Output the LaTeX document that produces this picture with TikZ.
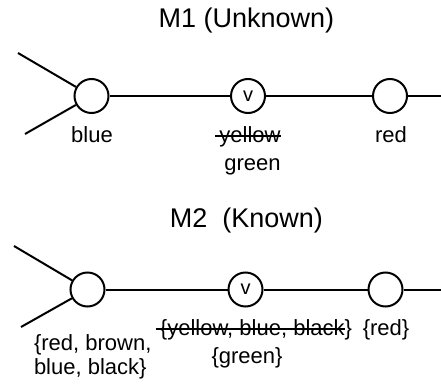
\documentclass[tikz,border=0pt]{standalone}
\usepackage{fontspec}
\setmainfont{Liberation Sans}
\usetikzlibrary{positioning}
\newsavebox{\gonebox}
\newcommand{\gone}[1]{\sbox{\gonebox}{#1}\rlap{\hspace{-4pt}\rule[0.24em]{\dimexpr\wd\gonebox+4pt\relax}{2pt}}\usebox{\gonebox}}

\begin{document}
\begin{tikzpicture}[x=1pt, y=-1pt,
    line width=2pt,
    var/.style={circle, draw, minimum size=34pt, inner sep=0pt, font=\fontsize{20}{24}\selectfont},
    lab/.style={anchor=base, inner sep=0pt, font=\fontsize{22}{24}\selectfont},
    title/.style={anchor=base, inner sep=0pt, font=\fontsize{27}{32}\selectfont}
]
    \useasboundingbox (0,0) rectangle (441,388);
    % M1
    \node[title] (t1) at (246.5,27) {M1 (Unknown)};
    \node[var] (b1) at (91.5,96) {};
    \node[var] (v1) at (248,96) {v};
    \node[var] (r1) at (390,96) {};
    \coordinate (in1a) at (18,53);
    \coordinate (in1b) at (25,134);
    \coordinate (out1) at (441,96);
    \draw (in1a) -- (b1);
    \draw (in1b) -- (b1);
    \draw (b1) -- (v1) -- (r1) -- (out1);
    \node[lab] (lb1) at (92,142) {blue};
    \node[lab] (lv1) at (250,142) {\gone{yellow}};
    \node[lab] (lg1) at (252.5,170) {green};
    \node[lab] (lr1) at (391,142) {red};
    % M2
    \node[title] (t2) at (246.5,227) {M2~~(Known)};
    \node[var] (b2) at (87.5,289.5) {};
    \node[var] (v2) at (245.5,289.5) {v};
    \node[var] (r2) at (385.5,289.5) {};
    \coordinate (in2a) at (14,246);
    \coordinate (in2b) at (21,327);
    \coordinate (out2) at (441,289.5);
    \draw (in2a) -- (b2);
    \draw (in2b) -- (b2);
    \draw (b2) -- (v2) -- (r2) -- (out2);
    \node[lab, anchor=base west, align=left] (lb2) at (33,374) {\{red, brown,\\blue, black\}};
    \node[lab] (lv2) at (256,335) {\gone{\{yellow, blue, black}\}};
    \node[lab] (lr2) at (386,335) {\{red\}};
    \node[lab] (lg2) at (247,363) {\{green\}};
\end{tikzpicture}
\end{document}
